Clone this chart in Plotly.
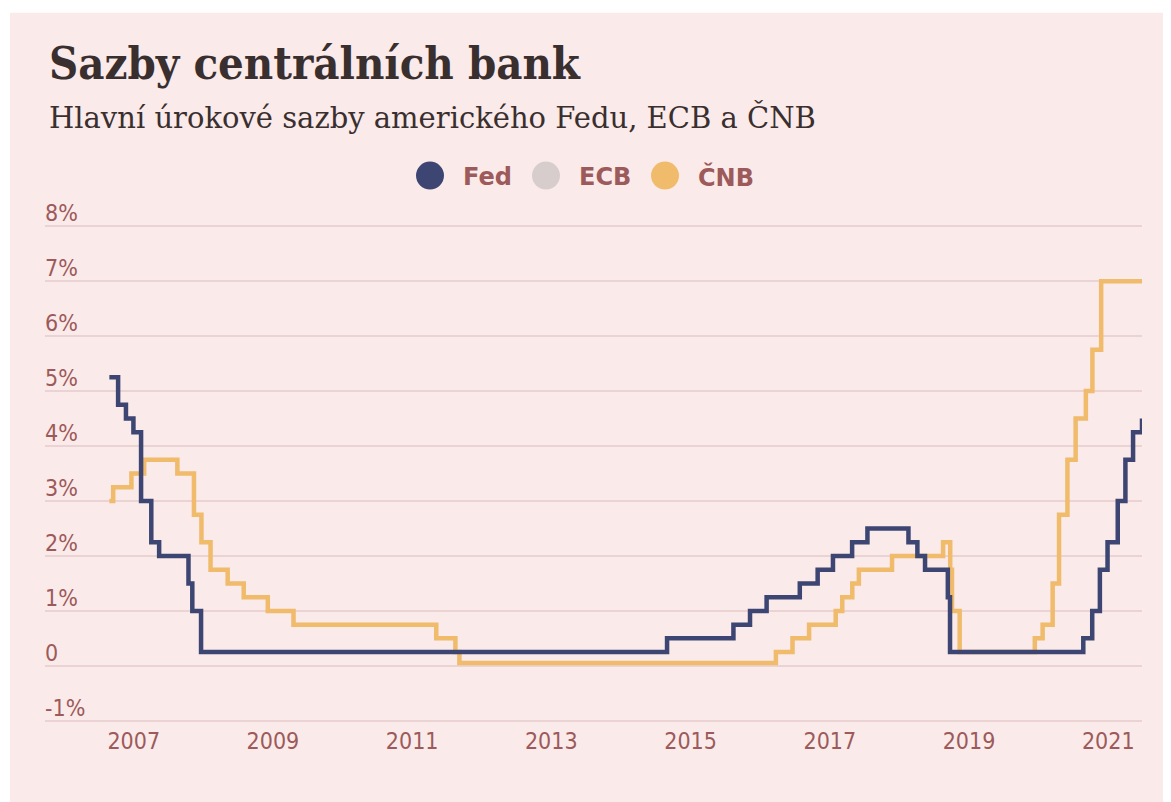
import plotly.graph_objects as go
import pandas as pd

# ---------------- data ----------------
fed_dates = ["2007-08-01", "2007-09-18", "2007-10-31", "2007-12-11", "2008-01-22",
             "2008-03-18", "2008-04-30", "2008-10-08", "2008-10-29", "2008-12-16",
             "2015-12-16", "2016-12-14", "2017-03-15", "2017-06-14", "2017-12-13",
             "2018-03-21", "2018-06-13", "2018-09-26", "2018-12-19", "2019-08-01",
             "2019-09-19", "2019-10-31", "2020-03-04", "2020-03-16", "2022-03-17",
             "2022-05-05", "2022-06-16", "2022-07-28", "2022-09-22", "2022-11-03",
             "2022-12-15", "2023-02-02"]
fed_values = [5.25, 4.75, 4.5, 4.25, 3.0,
              2.25, 2.0, 1.5, 1.0, 0.25,
              0.5, 0.75, 1.0, 1.25, 1.5,
              1.75, 2.0, 2.25, 2.5, 2.25,
              2.0, 1.75, 1.25, 0.25, 0.5,
              1.0, 1.75, 2.25, 3.0, 3.75,
              4.25, 4.5]

cnb_dates = ["2007-08-01", "2007-08-22", "2007-11-30", "2008-02-08", "2008-08-08",
             "2008-11-07", "2008-12-18", "2009-02-06", "2009-05-11", "2009-08-07",
             "2009-12-17", "2010-05-07", "2012-06-28", "2012-10-11", "2012-11-02",
             "2017-08-04", "2017-11-03", "2018-02-02", "2018-06-28", "2018-08-03",
             "2018-09-27", "2018-11-02", "2019-05-03", "2020-02-07", "2020-03-17",
             "2020-03-27", "2020-05-08", "2021-06-24", "2021-08-06", "2021-09-30",
             "2021-11-04", "2021-12-20", "2022-02-03", "2022-03-31", "2022-05-06",
             "2022-06-23", "2023-02-02"]
cnb_values = [3.0, 3.25, 3.5, 3.75, 3.5,
              2.75, 2.25, 1.75, 1.5, 1.25,
              1.0, 0.75, 0.5, 0.25, 0.05,
              0.25, 0.5, 0.75, 1.0, 1.25,
              1.5, 1.75, 2.0, 2.25, 1.75,
              1.0, 0.25, 0.5, 0.75, 1.5,
              2.75, 3.75, 4.5, 5.0, 5.75,
              7.0, 7.0]

series_names = ["Fed", "ECB", "ČNB"]
series_colors = ["#3d4673", "#d8cdcd", "#f0bb6b"]

x_tick_labels = ["2007", "2009", "2011", "2013", "2015", "2017", "2019", "2021"]
y_tick_values = [-1, 0, 1, 2, 3, 4, 5, 6, 7, 8]
y_tick_labels = ["-1%", "0", "1%", "2%", "3%", "4%", "5%", "6%", "7%", "8%"]

title_text = "Sazby centrálních bank"
subtitle_text = "Hlavní úrokové sazby amerického Fedu, ECB a ČNB"

# ---------------- layout geometry ----------------
OFF = 8                      # page body margin added by the browser
W, H = 1171 - OFF, 802 - OFF
Y_MIN, Y_MAX = -1.04, 8.04
PX_PER_UNIT = 55.0
PLOT_L, PLOT_R = 45, 1142    # reference-page pixels
PLOT_T = 225.7 - (Y_MAX - 8) * PX_PER_UNIT
PLOT_B = 720.7 + (-1 - Y_MIN) * PX_PER_UNIT
ML, MR = PLOT_L - OFF, W - (PLOT_R - OFF)
MT, MB = PLOT_T - OFF, H - (PLOT_B - OFF)
PW = W - ML - MR
PH = H - MT - MB

def px_x(px):
    return (px - OFF - ML) / PW

def px_y(py):
    return (H - MB - (py - OFF)) / PH

TEXT = "#9c5a5a"
BG = "#fbeaea"
GRID = "#ebd3d3"
DARK = "#3a2f2f"

tick_start = pd.Timestamp("2007-12-13")
tick_step = pd.Timedelta(days=763.6)
x_tick_vals = [(tick_start + i * tick_step).strftime("%Y-%m-%d") for i in range(len(x_tick_labels))]

fig = go.Figure()
fig.add_trace(go.Scatter(x=cnb_dates, y=cnb_values, mode="lines", name="ČNB",
                         line=dict(color=series_colors[2], width=4.5, shape="hv"),
                         showlegend=False, hoverinfo="skip"))
fig.add_trace(go.Scatter(x=fed_dates, y=fed_values, mode="lines", name="Fed",
                         line=dict(color=series_colors[0], width=4.5, shape="hv"),
                         showlegend=False, hoverinfo="skip"))

shapes = [dict(type="rect", xref="paper", yref="paper", layer="below",
               x0=px_x(10), x1=px_x(1180), y0=px_y(810), y1=px_y(12),
               fillcolor=BG, line=dict(width=0))]

annotations = [
    dict(text="<b>" + title_text + "</b>", xref="paper", yref="paper",
         x=px_x(47), y=px_y(63), xanchor="left", yanchor="middle", showarrow=False,
         font=dict(family="DejaVu Serif Condensed, DejaVu Serif, serif", size=45, color=DARK)),
    dict(text=subtitle_text, xref="paper", yref="paper",
         x=px_x(47), y=px_y(117), xanchor="left", yanchor="middle", showarrow=False,
         font=dict(family="DejaVu Serif, serif", size=29, color=DARK)),
]

legend_cx = [430, 546, 665]
for name, color, cx in zip(series_names, series_colors, legend_cx):
    shapes.append(dict(type="circle", xref="paper", yref="paper",
                       xsizemode="pixel", ysizemode="pixel",
                       xanchor=px_x(cx), yanchor=px_y(175),
                       x0=-14, x1=14, y0=-14, y1=14,
                       fillcolor=color, line=dict(width=0)))
    annotations.append(dict(text="<b>" + name + "</b>", xref="paper", yref="paper",
                            x=px_x(cx + 31), y=px_y(176), xanchor="left", yanchor="middle",
                            showarrow=False,
                            font=dict(family="DejaVu Sans, Verdana, sans-serif", size=24, color=TEXT)))

fig.update_layout(
    width=W, height=H,
    margin=dict(l=ML, r=MR, t=MT, b=MB, pad=0),
    paper_bgcolor="white",
    plot_bgcolor="rgba(0,0,0,0)",
    showlegend=False,
    shapes=shapes,
    annotations=annotations,
    xaxis=dict(type="date", range=["2006-08-13", "2023-02-02"],
               tickvals=x_tick_vals, ticktext=x_tick_labels,
               showgrid=False, zeroline=False, showline=False, ticks="",
               ticklabelstandoff=2,
               tickfont=dict(family="DejaVu Sans Condensed, DejaVu Sans, sans-serif", size=23, color=TEXT),
               fixedrange=True),
    yaxis=dict(range=[Y_MIN, Y_MAX], tickvals=y_tick_values, ticktext=y_tick_labels,
               showgrid=True, gridcolor=GRID, gridwidth=2,
               zeroline=False, showline=False, ticks="",
               ticklabelposition="inside", ticklabelshift=-13, ticklabelstandoff=-3,
               ticklabeloverflow="allow",
               tickfont=dict(family="DejaVu Sans Condensed, DejaVu Sans, sans-serif", size=23, color=TEXT),
               fixedrange=True),
)

fig.write_html("out.html")
